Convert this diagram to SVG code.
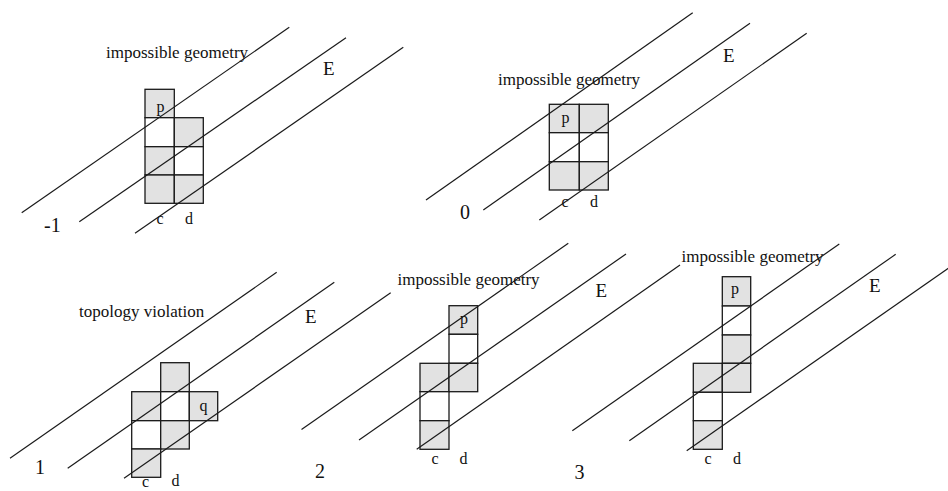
<svg xmlns="http://www.w3.org/2000/svg" width="948" height="491" viewBox="0 0 948 491">
<style>
.g{fill:#e2e2e2;stroke:#1a1a1a;stroke-width:1.3}
.w{fill:#ffffff;stroke:#1a1a1a;stroke-width:1.3}
.ln{stroke:#1a1a1a;stroke-width:1.2;fill:none}
text{font-family:"Liberation Serif","Times New Roman",serif;fill:#111}
.t{font-size:17px}
.e{font-size:19px}
.n{font-size:20px}
.s{font-size:16px}
</style>
<rect width="948" height="491" fill="#ffffff"/>

<g id="panel-minus1">
<rect class="g" x="145" y="89.3" width="29.3" height="28.4"/>
<rect class="w" x="145" y="117.7" width="29.3" height="29"/>
<rect class="g" x="145" y="146.7" width="29.3" height="28.3"/>
<rect class="g" x="145" y="175" width="29.3" height="28.3"/>
<rect class="g" x="174.3" y="117.7" width="29" height="29"/>
<rect class="w" x="174.3" y="146.7" width="29" height="28.3"/>
<rect class="g" x="174.3" y="175" width="29" height="28.3"/>
<text class="s" x="156.5" y="111.5">p</text>
<text class="t" x="106" y="58">impossible geometry</text>
<text class="e" x="323" y="75">E</text>
<text class="n" x="44" y="232">-1</text>
<text class="s" x="156.5" y="223.5">c</text>
<text class="s" x="185" y="223.5">d</text>
</g>

<g id="panel-0">
<rect class="g" x="549.3" y="104.3" width="30" height="28.4"/>
<rect class="g" x="579.3" y="104.3" width="29" height="28.4"/>
<rect class="w" x="549.3" y="132.7" width="30" height="29"/>
<rect class="w" x="579.3" y="132.7" width="29" height="29"/>
<rect class="g" x="549.3" y="161.7" width="30" height="28.3"/>
<rect class="g" x="579.3" y="161.7" width="29" height="28.3"/>
<text class="s" x="561.5" y="122.5">p</text>
<text class="t" x="498" y="85">impossible geometry</text>
<text class="e" x="723" y="62">E</text>
<text class="n" x="460" y="218.5">0</text>
<text class="s" x="561.5" y="207">c</text>
<text class="s" x="590" y="207">d</text>
</g>

<g id="panel-1">
<rect class="g" x="160.7" y="362.7" width="28.6" height="29"/>
<rect class="g" x="131.7" y="391.7" width="29" height="29"/>
<rect class="w" x="160.7" y="391.7" width="28.6" height="29"/>
<rect class="g" x="189.3" y="391.7" width="28.4" height="29"/>
<rect class="w" x="131.7" y="420.7" width="29" height="28.3"/>
<rect class="g" x="160.7" y="420.7" width="28.6" height="28.3"/>
<rect class="g" x="131.7" y="449" width="29" height="28.3"/>
<text class="s" x="199.5" y="411">q</text>
<text class="t" x="79" y="316.5">topology violation</text>
<text class="e" x="305" y="322.5">E</text>
<text class="n" x="35" y="474">1</text>
<text class="s" x="142" y="487">c</text>
<text class="s" x="171.5" y="486">d</text>
</g>

<g id="panel-2">
<rect class="g" x="449" y="305.7" width="28.7" height="28.6"/>
<rect class="w" x="449" y="334.3" width="28.7" height="29"/>
<rect class="g" x="420" y="363.3" width="29" height="28.4"/>
<rect class="g" x="449" y="363.3" width="28.7" height="28.4"/>
<rect class="w" x="420" y="391.7" width="29" height="29"/>
<rect class="g" x="420" y="420.7" width="29" height="28.6"/>
<text class="s" x="460" y="323.5">p</text>
<text class="t" x="397.5" y="285">impossible geometry</text>
<text class="e" x="595.5" y="297">E</text>
<text class="n" x="315" y="477.5">2</text>
<text class="s" x="431.5" y="463.5">c</text>
<text class="s" x="459.5" y="463.5">d</text>
</g>

<g id="panel-3">
<rect class="g" x="722.3" y="276.7" width="28.4" height="29.3"/>
<rect class="w" x="722.3" y="306" width="28.4" height="29"/>
<rect class="g" x="722.3" y="335" width="28.4" height="28.3"/>
<rect class="g" x="693.3" y="363.3" width="29" height="29"/>
<rect class="g" x="722.3" y="363.3" width="28.4" height="29"/>
<rect class="w" x="693.3" y="392.3" width="29" height="28.4"/>
<rect class="g" x="693.3" y="420.7" width="29" height="28.6"/>
<text class="s" x="731" y="294">p</text>
<text class="t" x="681.5" y="262">impossible geometry</text>
<text class="e" x="869" y="292">E</text>
<text class="n" x="574.5" y="478.5">3</text>
<text class="s" x="704.5" y="463.5">c</text>
<text class="s" x="733" y="463.5">d</text>
</g>

<g id="connectors">
<line class="ln" x1="21.7" y1="212.7" x2="289.3" y2="27.3"/>
<line class="ln" x1="79.3" y1="221.7" x2="346" y2="37.7"/>
<line class="ln" x1="135" y1="233.3" x2="403.3" y2="47.3"/>
<line class="ln" x1="426" y1="200" x2="692.7" y2="12.7"/>
<line class="ln" x1="483.3" y1="210" x2="750" y2="23.3"/>
<line class="ln" x1="539.3" y1="220" x2="806.7" y2="33.3"/>
<line class="ln" x1="10" y1="458.3" x2="276.7" y2="272.3"/>
<line class="ln" x1="67.7" y1="468.3" x2="334.3" y2="282.3"/>
<line class="ln" x1="124" y1="478.3" x2="390.7" y2="292.7"/>
<line class="ln" x1="301.5" y1="429.5" x2="568.3" y2="243.3"/>
<line class="ln" x1="359" y1="440" x2="626" y2="254"/>
<line class="ln" x1="416.7" y1="449.3" x2="680" y2="265"/>
<line class="ln" x1="572.3" y1="430.7" x2="839.3" y2="244"/>
<line class="ln" x1="629.3" y1="440.7" x2="895.7" y2="254.3"/>
<line class="ln" x1="686.7" y1="450.7" x2="953" y2="265"/>
</g>
</svg>
